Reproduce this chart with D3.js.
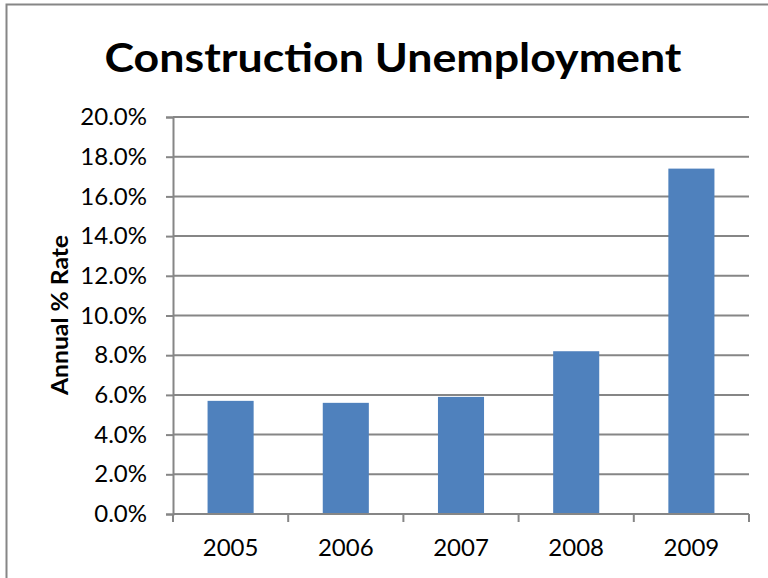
<!DOCTYPE html>
<html>
<head>
<meta charset="utf-8">
<script src="https://cdn.jsdelivr.net/npm/d3@7"></script>
<style>
  body { margin: 0; background: white; }
  svg { display: block; font-family: Lato, "Open Sans", sans-serif; }
</style>
</head>
<body>
<div id="container"></div>
<script>
// construction unemployment, annual rate by year

const years = ["2005", "2006", "2007", "2008", "2009"];
const rates = [5.7, 5.6, 5.9, 8.2, 17.4];
const yTicks = [0, 2, 4, 6, 8, 10, 12, 14, 16, 18, 20];

const width = 768,
      height = 578;

const margin = {top: 117, right: 19, bottom: 64, left: 173};

const svg = d3.select("#container").append("svg")
    .attr("width", width)
    .attr("height", height);

// outer frame, runs off the right and bottom edge
svg.append("rect")
    .attr("x", 6.5).attr("y", 4.5)
    .attr("width", 800).attr("height", 800)
    .attr("fill", "white")
    .attr("stroke", "#868686")
    .attr("stroke-width", 2);

const x = d3.scaleBand()
    .domain(years)
    .range([margin.left, width - margin.right])
    .paddingInner(0.6)
    .paddingOuter(0.3);

const y = d3.scaleLinear()
    .domain([0, 20])
    .range([height - margin.bottom, margin.top]);

// gridlines
svg.append("g")
    .selectAll("line")
    .data(yTicks)
    .enter()
    .append("line")
    .attr("x1", margin.left)
    .attr("x2", width - margin.right)
    .attr("y1", d => y(d))
    .attr("y2", d => y(d))
    .attr("stroke", "#868686")
    .attr("stroke-width", 2);

// bars
svg.append("g")
    .selectAll("rect")
    .data(rates)
    .enter()
    .append("rect")
    .attr("x", (d, i) => x(years[i]))
    .attr("width", x.bandwidth())
    .attr("y", d => y(d))
    .attr("height", d => y(0) - y(d))
    .attr("fill", "#4F81BD");

// y axis
const yAxis = d3.axisLeft(y)
    .tickValues(yTicks)
    .tickSize(7)
    .tickPadding(19)
    .tickFormat(d => d.toFixed(1) + "%");

const gy = svg.append("g")
    .attr("transform", "translate(" + margin.left + ",0)")
    .call(yAxis);

gy.select(".domain").attr("stroke", "#868686").attr("stroke-width", 2);
gy.selectAll(".tick line").attr("stroke", "#868686").attr("stroke-width", 2);
gy.selectAll(".tick text")
    .attr("font-size", 24)
    .attr("fill", "#000")
    .attr("font-family", "Lato, sans-serif");

// x axis, ticks at band edges
const xAxisScale = d3.scaleLinear()
    .domain([0, years.length])
    .range([margin.left, width - margin.right]);

const gx = svg.append("g")
    .attr("transform", "translate(0," + y(0) + ")");

gx.append("line")
    .attr("x1", margin.left).attr("x2", width - margin.right)
    .attr("stroke", "#868686").attr("stroke-width", 2);

gx.selectAll(".xtick")
    .data(d3.range(0, years.length + 1))
    .enter()
    .append("line")
    .attr("x1", d => xAxisScale(d))
    .attr("x2", d => xAxisScale(d))
    .attr("y1", 0)
    .attr("y2", 8)
    .attr("stroke", "#868686")
    .attr("stroke-width", 2);

gx.selectAll(".xlabel")
    .data(years)
    .enter()
    .append("text")
    .attr("x", d => x(d) + x.bandwidth() / 2)
    .attr("y", 42)
    .attr("text-anchor", "middle")
    .attr("font-size", 24)
    .attr("fill", "#000")
    .text(d => d);

// y axis title
svg.append("text")
    .attr("transform", "translate(68,315) rotate(-90)")
    .attr("text-anchor", "middle")
    .attr("font-size", 23)
    .attr("font-weight", "bold")
    .attr("textLength", 160)
    .attr("lengthAdjust", "spacingAndGlyphs")
    .text("Annual % Rate");

// chart title
svg.append("text")
    .attr("x", 393)
    .attr("y", 72)
    .attr("text-anchor", "middle")
    .attr("font-size", 41)
    .attr("font-weight", "bold")
    .attr("textLength", 577)
    .attr("lengthAdjust", "spacingAndGlyphs")
    .text("Construction Unemployment");
</script>
</body>
</html>
